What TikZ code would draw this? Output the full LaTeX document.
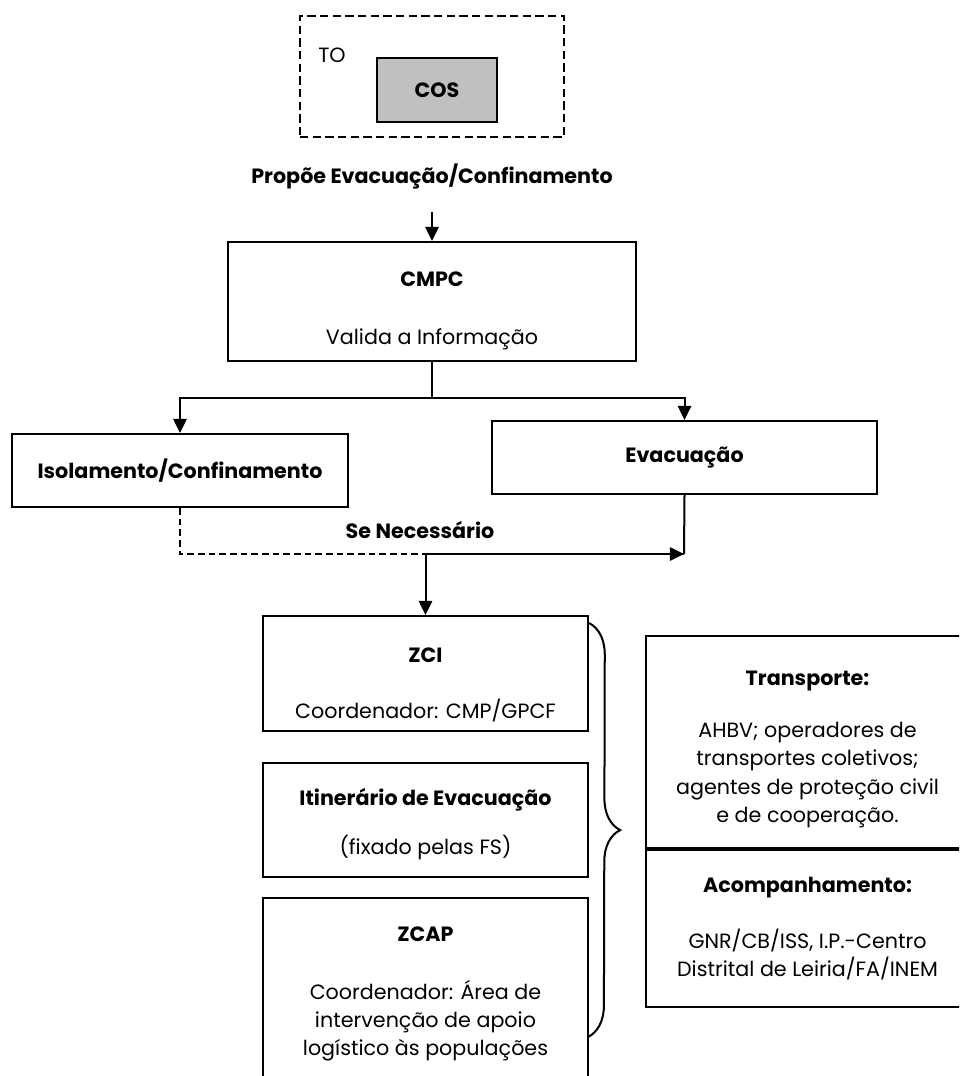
\documentclass[tikz,border=0pt]{standalone}
\usepackage{fontspec}
\setmainfont{Poppins}
\usetikzlibrary{arrows.meta, positioning, calc, decorations.pathreplacing}
\definecolor{cosgray}{HTML}{C0C0C0}
\newcommand{\topgap}[1]{\rule{0pt}{#1}}
\tikzset{
    box/.style={rectangle, draw=black, line width=1.2pt, fill=white, align=center, inner sep=0pt, font=\fontsize{12.4}{17}\selectfont},
    graybox/.style={box, fill=cosgray},
    dashedbox/.style={rectangle, draw=black, line width=1.2pt, dash pattern=on 5pt off 2.6pt},
    lbl/.style={inner sep=0pt, font=\fontsize{12.4}{17}\selectfont},
    arrow/.style={-{Triangle[length=8.5pt, width=8pt]}, line width=1.2pt, draw=black},
    dashedarrow/.style={arrow, dash pattern=on 4pt off 2.4pt},
    bracket/.style={decorate, decoration={brace, amplitude=19pt}, line width=1.2pt}
}

\begin{document}
\begin{tikzpicture}[x=0.6pt, y=-0.6pt, node distance=18pt]
    \clip (0,0) rectangle (959,1076);
    % top: TO / COS
    \node[dashedbox, minimum width=158.4pt, minimum height=72.6pt] (to) at (432,76.5) {};
    \node[lbl] (tolbl) at (332,55) {TO};
    \node[graybox, minimum width=72pt, minimum height=38.4pt] (cos) at (437,90) {\textbf{COS}};
    \node[lbl] (prop) at (432,176) {\textbf{Propõe Evacuação/Confinamento}};
    \coordinate (propbot) at (432,212);

    % CMPC and the two choices
    \node[box, minimum width=244.8pt, minimum height=71.4pt] (cmpc) at (432,301.5) {\topgap{20pt}\textbf{CMPC}\\[17.8pt]Valida a Informação};
    \node[box, minimum width=201.6pt, minimum height=43.8pt] (isol) at (180,470.5) {\textbf{Isolamento/Confinamento}};
    \node[box, minimum width=231pt, minimum height=43.8pt] (evac) at (684.5,457.5) {\textbf{Evacuação}};
    \node[lbl] (senec) at (420,530) {\textbf{Se Necessário}};
    \coordinate (join) at (684,554);

    % zones
    \node[box, minimum width=195pt, minimum height=69pt] (zci) at (425.5,673.5) {\topgap{22.5pt}\textbf{ZCI}\\[16.6pt]Coordenador: CMP/GPCF};
    \node[box, minimum width=195pt, minimum height=68.4pt, below=18pt of zci] (itin) {\topgap{15pt}\textbf{Itinerário de Evacuação}\\[12.4pt](fixado pelas FS)};
    \node[box, minimum width=195pt, minimum height=115pt, below=11.4pt of itin] (zcap) {\textbf{ZCAP}\\[17.8pt]Coordenador: Área de\\intervenção de apoio\\logístico às populações};
    \coordinate (bracebot) at (588,1037);

    % right column
    \node[box, minimum width=193.8pt, minimum height=127.2pt] (transp) at (807.5,742) {\topgap{17.7pt}\textbf{Transporte:}\\[14.2pt]AHBV; operadores de\\transportes coletivos;\\agentes de proteção civil\\e de cooperação.};
    \node[box, minimum width=193.8pt, minimum height=94.2pt, below=0pt of transp] (acomp) {\textbf{Acompanhamento:}\\[16.6pt]GNR/CB/ISS, I.P.-Centro\\Distrital de Leiria/FA/INEM};

    \draw[arrow] (propbot) -- (cmpc);
    \draw[arrow] (cmpc.south) -- ++(0,36) -| (isol.north);
    \draw[arrow] (cmpc.south) -- ++(0,36) -| (evac.north);
    \draw[dashedarrow] (isol.south) |- (join);
    \draw[line width=1.2pt] (evac.south) -- (join);
    \draw[arrow] (join) -| (zci.north);
    \draw[bracket] ([yshift=-4.8pt]zci.north east) -- (bracebot);
\end{tikzpicture}
\end{document}
